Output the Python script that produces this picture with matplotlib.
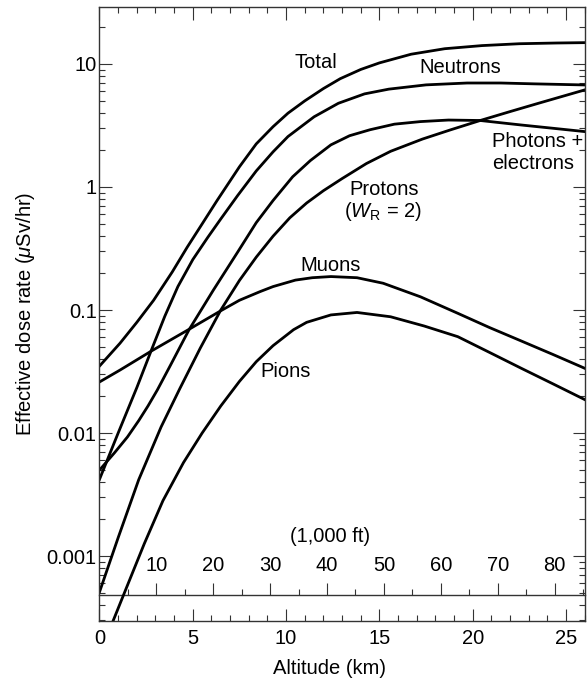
import matplotlib
matplotlib.use('Agg')
import matplotlib.pyplot as plt
from matplotlib.ticker import FixedLocator, FuncFormatter, MultipleLocator, LogLocator, NullFormatter

# values (altitude in km, dose rate in uSv/hr)
alt_total = [0, 1.1, 2.0, 2.9, 3.9, 4.7, 5.5, 6.3, 7.5, 8.4, 9.3, 10.1, 11.0, 12.0,
             12.9, 14.0, 15.0, 16.7, 18.5, 20.5, 22.5, 24.5, 26.0]
total = [0.035, 0.0537, 0.0794, 0.120, 0.204, 0.324, 0.501, 0.776, 1.46, 2.24, 3.09, 3.98, 5.01,
         6.31, 7.59, 9.02, 10.2, 12.0, 13.3, 14.1, 14.6, 14.8, 14.9]

alt_neutrons = [0, 1.0, 2.0, 2.8, 3.5, 4.2, 5.0, 5.8, 6.5, 7.4, 8.4, 9.3, 10.1, 11.5, 12.8,
                14.2, 15.5, 17.5, 19.7, 21.5, 23.3, 26.0]
neutrons = [0.0042, 0.010, 0.0234, 0.048, 0.089, 0.155, 0.257, 0.389, 0.55, 0.851, 1.35, 1.93,
            2.57, 3.72, 4.79, 5.71, 6.24, 6.76, 7.0, 7.0, 6.89, 6.75]

alt_photons = [0, 0.8, 1.5, 2.1, 2.6, 3.1, 3.8, 4.8, 6.1, 7.4, 8.4, 9.3, 10.35, 11.3, 12.4,
               13.4, 14.5, 15.8, 17.2, 18.7, 20.4, 22.6, 24.3, 26.0]
photons = [0.0050, 0.0069, 0.0093, 0.0126, 0.0166, 0.0224, 0.0355, 0.0692, 0.145, 0.295, 0.513,
           0.776, 1.21, 1.64, 2.2, 2.61, 2.92, 3.24, 3.4, 3.5, 3.47, 3.19, 3.0, 2.82]

alt_protons = [0, 1.0, 2.1, 3.3, 4.3, 5.4, 6.5, 7.5, 8.4, 9.3, 10.2, 11.1, 12.0, 13.0, 14.3,
               15.6, 17.3, 18.8, 20.4, 22.0, 23.5, 26.0]
protons = [0.00051, 0.00141, 0.00417, 0.0112, 0.0229, 0.049, 0.10, 0.174, 0.269, 0.398, 0.562,
           0.741, 0.933, 1.17, 1.55, 1.95, 2.45, 2.91, 3.47, 4.10, 4.78, 6.15]

alt_muons = [0, 1.1, 2.8, 4.8, 6.5, 7.5, 8.6, 9.3, 10.5, 11.4, 12.4, 13.8, 15.2, 17.2, 19.2,
             20.9, 22.6, 24.3, 26.0]
muons = [0.026, 0.0325, 0.0466, 0.0697, 0.0986, 0.12, 0.141, 0.155, 0.175, 0.183, 0.187, 0.183,
         0.165, 0.128, 0.094, 0.072, 0.056, 0.0435, 0.0336]

alt_pions = [0.5, 0.74, 1.46, 2.4, 3.4, 4.5, 5.5, 6.5, 7.5, 8.4, 9.3, 10.4, 11.1, 12.4, 13.8,
             15.6, 17.4, 19.2, 20.9, 22.6, 24.3, 26.0]
pions = [0.000245, 0.0003, 0.00056, 0.00126, 0.00282, 0.00575, 0.010, 0.0166, 0.0263, 0.038,
         0.0513, 0.0692, 0.0794, 0.0912, 0.0955, 0.0881, 0.0741, 0.0607, 0.0452, 0.0336, 0.0251,
         0.0187]

y_ticks = [0.001, 0.01, 0.1, 1, 10]
kft_ticks = [10, 20, 30, 40, 50, 60, 70, 80]
kft_minor = [5, 15, 25, 35, 45, 55, 65, 75, 85]

plt.rcParams['font.family'] = ['Liberation Sans', 'DejaVu Sans']
plt.rcParams['mathtext.fontset'] = 'custom'
plt.rcParams['mathtext.rm'] = 'Liberation Sans'
plt.rcParams['mathtext.it'] = 'Liberation Sans:italic'
plt.rcParams['font.size'] = 14.5

spine_col = '#333333'

fig = plt.figure(figsize=(5.87, 6.79), dpi=100)
ax = fig.add_axes([0.1695, 0.0858, 0.8266, 0.9038])

for xs, ys in [(alt_total, total), (alt_neutrons, neutrons), (alt_photons, photons),
               (alt_protons, protons), (alt_muons, muons), (alt_pions, pions)]:
    ax.plot(xs, ys, color='black', lw=2, solid_joinstyle='round')

ax.set_yscale('log')
ax.set_xlim(0, 26)
ax.set_ylim(2.98e-4, 29)

ax.yaxis.set_major_locator(FixedLocator(y_ticks))
ax.yaxis.set_major_formatter(FuncFormatter(lambda v, p: '%g' % v))
ax.yaxis.set_minor_locator(LogLocator(subs=range(2, 10), numticks=20))
ax.yaxis.set_minor_formatter(NullFormatter())
ax.xaxis.set_major_locator(MultipleLocator(5))
ax.xaxis.set_minor_locator(MultipleLocator(1))

ax.tick_params(which='both', direction='in', top=True, right=True, width=0.8, color=spine_col)
ax.tick_params(which='major', length=9)
ax.tick_params(which='minor', length=4.5)
ax.tick_params(axis='x', pad=6)
ax.tick_params(axis='y', pad=2)
for s in ax.spines.values():
    s.set_color(spine_col)
    s.set_linewidth(1)

ax.set_xlabel('Altitude (km)', labelpad=8)
ax.xaxis.label.set_x(0.473)
ax.set_ylabel(r'Effective dose rate ($\mu$Sv/hr)', labelpad=7)

# inner altitude scale in thousands of feet
sec = ax.secondary_xaxis(0.0425, functions=(lambda k: k / 0.3048, lambda f: f * 0.3048))
sec.set_alignment('top')
sec.set_xticks(kft_ticks)
sec.xaxis.set_minor_locator(FixedLocator(kft_minor))
sec.tick_params(which='both', direction='out', width=0.8, color=spine_col, pad=5)
sec.tick_params(which='major', length=9)
sec.tick_params(which='minor', length=4.5)
for s in sec.spines.values():
    s.set_color(spine_col)
    s.set_linewidth(1)

ax.text(12.37, 0.00143, '(1,000 ft)', ha='center', va='center')
ax.text(11.57, 10.2, 'Total', ha='center', va='center')
ax.text(19.35, 9.27, 'Neutrons', ha='center', va='center')
ax.text(21.05, 1.91, 'Photons +\nelectrons', ha='left', va='center', linespacing=1.2)
ax.text(15.27, 0.945, 'Protons', ha='center', va='center')
ax.text(15.2, 0.63, r'($W_\mathrm{R}$ = 2)', ha='center', va='center')
ax.text(12.37, 0.232, 'Muons', ha='center', va='center')
ax.text(9.97, 0.0319, 'Pions', ha='center', va='center')

fig.savefig('out.png', dpi=100)
